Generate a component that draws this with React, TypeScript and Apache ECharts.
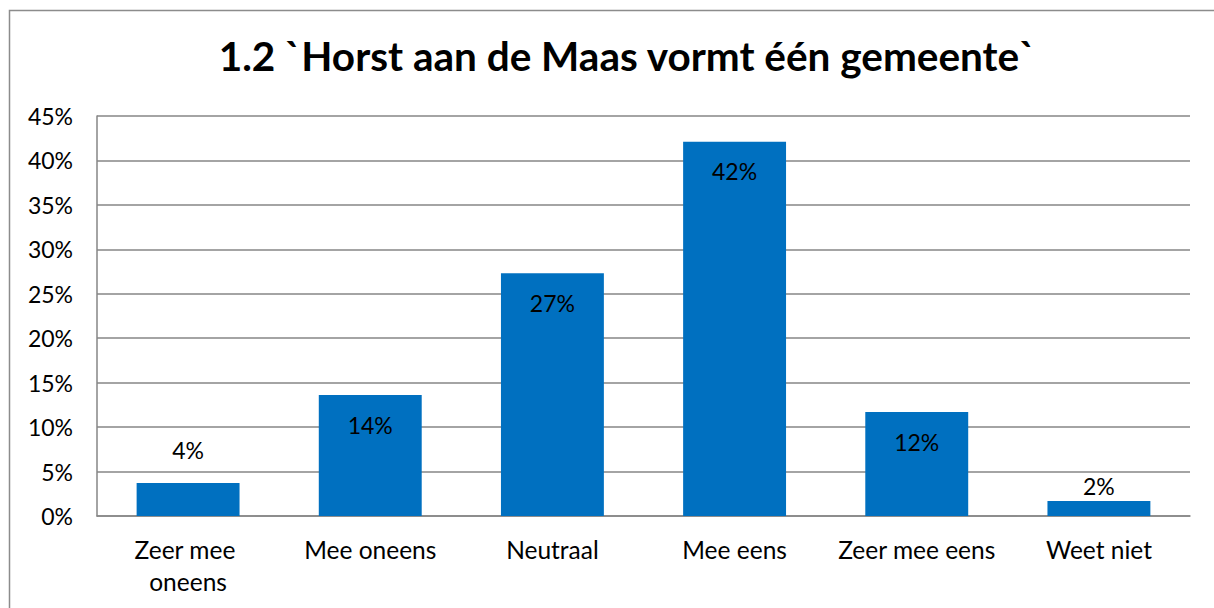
import React, { useEffect, useRef } from "react";
import * as echarts from "echarts";

const categories = ["Zeer mee oneens", "Mee oneens", "Neutraal", "Mee eens", "Zeer mee eens", "Weet niet"];
const values = [3.7, 13.6, 27.3, 42.1, 11.7, 1.7];
const valueLabels = ["4%", "14%", "27%", "42%", "12%", "2%"];
const labelOutside = [true, false, false, false, false, true];
const titleText = "1.2 `Horst aan de Maas vormt één gemeente`";

const FONT = "Lato, 'Open Sans', sans-serif";

export default function App() {
  const ref = useRef<HTMLDivElement>(null);
  useEffect(() => {
    const chart = echarts.init(ref.current!, null, { renderer: "svg" });
    const outsideDistance = (i: number) => (i === 0 ? 22 : 3);
    chart.setOption({
      animation: false,
      backgroundColor: "#ffffff",
      textStyle: { fontFamily: FONT },
      title: {
        text: titleText,
        left: 622,
        textAlign: "center",
        top: 30,
        textStyle: { fontFamily: FONT, fontSize: 40.5, fontWeight: "bold", color: "#000" },
      },
      graphic: [
        {
          type: "rect",
          shape: { x: 9.5, y: 10.5, width: 1230, height: 640 },
          style: { fill: "none", stroke: "#8c8c8c", lineWidth: 1.5 },
          silent: true,
        },
      ],
      grid: { left: 97, right: 24, top: 116, bottom: 92 },
      xAxis: {
        type: "category",
        data: categories,
        axisLine: { show: true, lineStyle: { color: "#868686", width: 1.5 } },
        axisTick: { show: false },
        axisLabel: {
          color: "#000",
          fontSize: 24.5,
          fontFamily: FONT,
          margin: 17,
          width: 170,
          overflow: "break",
          lineHeight: 32,
          interval: 0,
        },
      },
      yAxis: {
        type: "value",
        min: 0,
        max: 45,
        interval: 5,
        axisLine: { show: true, lineStyle: { color: "#868686", width: 1.5 } },
        axisTick: { show: false },
        splitLine: { show: true, lineStyle: { color: "#868686", width: 1.5 } },
        axisLabel: {
          color: "#000",
          fontSize: 23,
          fontFamily: FONT,
          margin: 24,
          formatter: (v: number) => v + "%",
        },
      },
      series: [
        {
          type: "bar",
          barWidth: "56.5%",
          data: values.map((v, i) => ({
            value: v,
            label: {
              show: true,
              position: labelOutside[i] ? "top" : "insideTop",
              distance: labelOutside[i] ? outsideDistance(i) : 18,
              formatter: valueLabels[i],
              color: "#000",
              fontSize: 23,
              fontFamily: FONT,
            },
          })),
          itemStyle: { color: "#0070C0" },
        },
      ],
    });
    return () => chart.dispose();
  }, []);
  return (
    <div
      ref={ref}
      style={{ position: "fixed", left: 0, top: 0, width: 1214, height: 608 }}
    />
  );
}
